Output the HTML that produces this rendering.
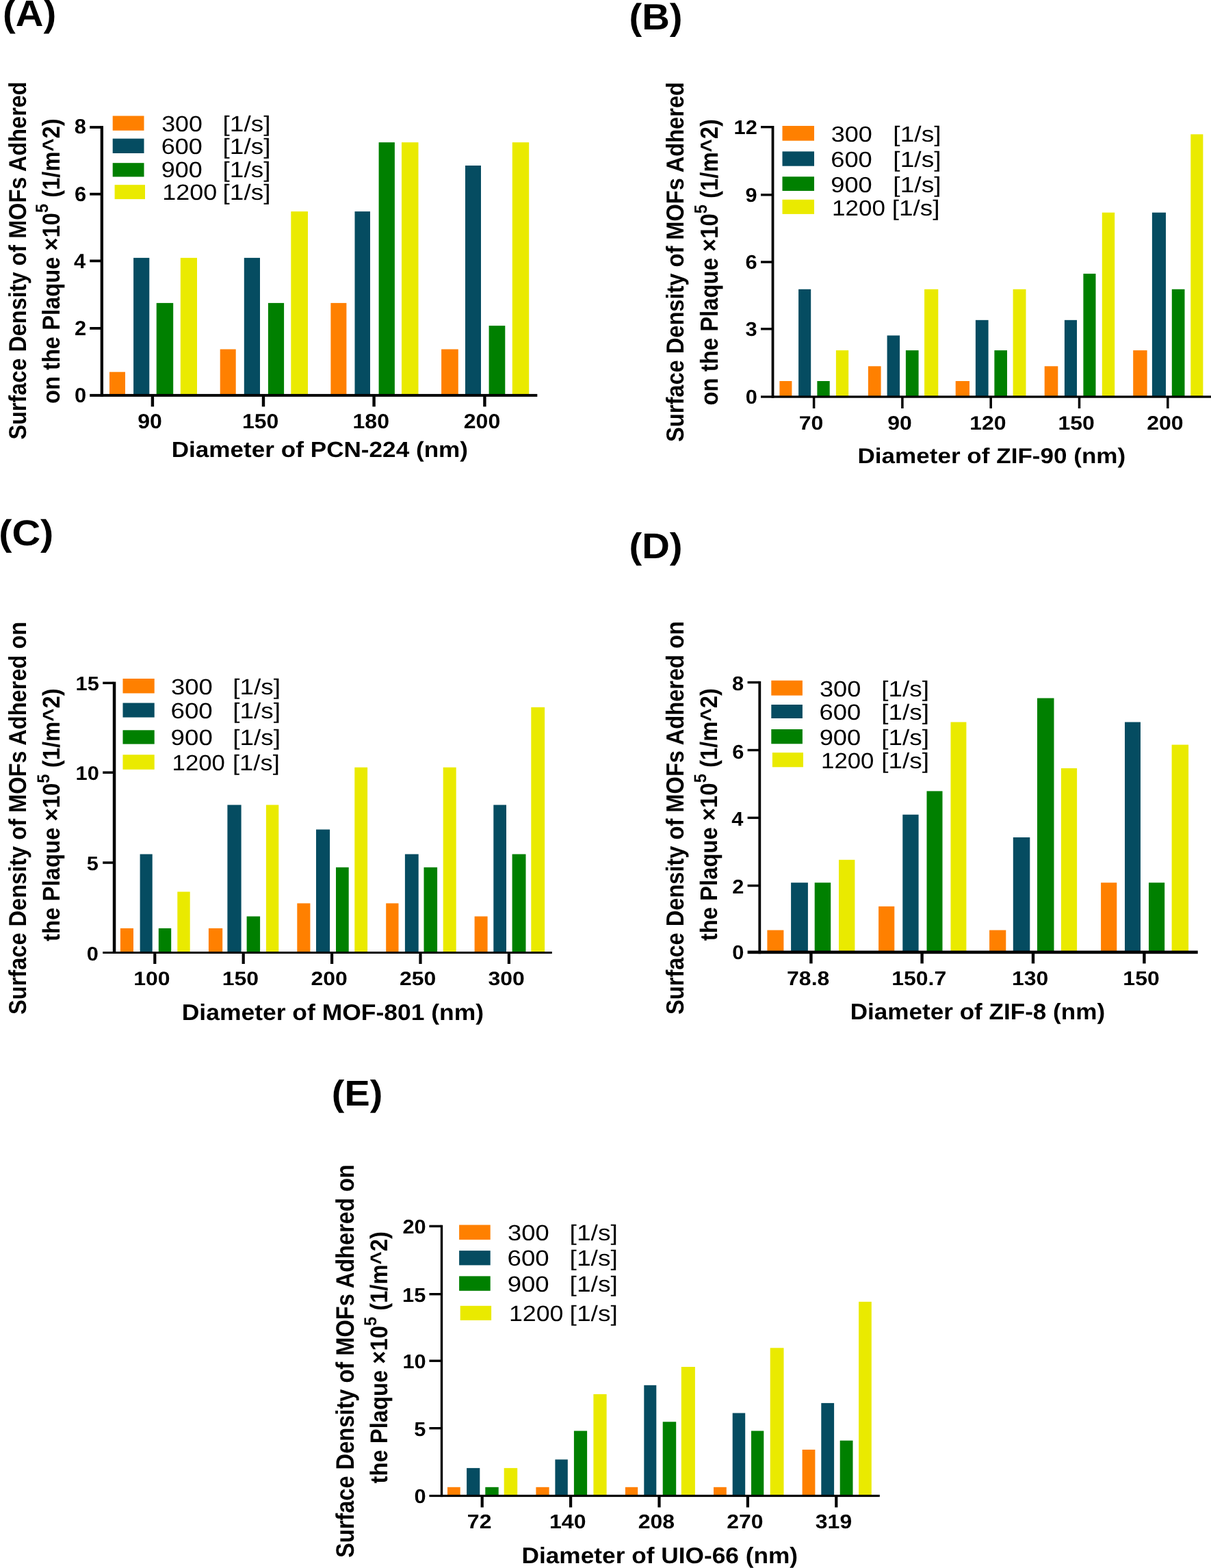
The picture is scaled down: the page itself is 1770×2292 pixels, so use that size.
<!DOCTYPE html>
<html lang="en">
<head>
<meta charset="utf-8">
<title>Surface density of MOFs adhered on the plaque</title>
<style>
html,body{margin:0;padding:0;background:#fff;}
body{width:1770px;height:2292px;overflow:hidden;}
svg{display:block;}
svg text{font-family:"Liberation Sans",Arial,Helvetica,sans-serif;fill:#000;}
</style>
</head>
<body>
<svg width="1770" height="2292" viewBox="0 0 1770 2292" text-rendering="geometricPrecision">
<rect x="0" y="0" width="1770" height="2292" fill="#ffffff"/>
<g id="panel-A">
<rect x="160" y="543.7" width="23" height="34.2" fill="#FF8000"/>
<rect x="195.1" y="376.9" width="23.2" height="201" fill="#054C61"/>
<rect x="228.7" y="442.9" width="24.5" height="135" fill="#008000"/>
<rect x="263.8" y="376.9" width="24.2" height="201" fill="#EAEA00"/>
<rect x="321.7" y="510.5" width="23" height="67.4" fill="#FF8000"/>
<rect x="356.8" y="376.9" width="23.2" height="201" fill="#054C61"/>
<rect x="391.9" y="442.9" width="23.2" height="135" fill="#008000"/>
<rect x="425.3" y="309.1" width="24.7" height="268.8" fill="#EAEA00"/>
<rect x="483.4" y="442.9" width="23" height="135" fill="#FF8000"/>
<rect x="518.5" y="309.1" width="22.5" height="268.8" fill="#054C61"/>
<rect x="553.6" y="208.1" width="23.3" height="369.8" fill="#008000"/>
<rect x="587" y="208.1" width="24.5" height="369.8" fill="#EAEA00"/>
<rect x="645.1" y="510.5" width="24.7" height="67.4" fill="#FF8000"/>
<rect x="680" y="242" width="23" height="335.9" fill="#054C61"/>
<rect x="714.6" y="476.1" width="23.7" height="101.8" fill="#008000"/>
<rect x="748.8" y="208.1" width="24.4" height="369.8" fill="#EAEA00"/>
<rect x="146.7" y="184.1" width="4.3" height="395.8" fill="#000"/>
<rect x="131.2" y="575.9" width="654.1" height="4" fill="#000"/>
<rect x="131.2" y="184.1" width="16.5" height="3.8" fill="#000"/>
<rect x="131.2" y="281.8" width="16.5" height="3.8" fill="#000"/>
<rect x="131.2" y="379.5" width="16.5" height="3.8" fill="#000"/>
<rect x="131.2" y="478" width="16.5" height="3.8" fill="#000"/>
<rect x="220.7" y="577.9" width="4.4" height="16.5" fill="#000"/>
<rect x="382.8" y="577.9" width="4.4" height="16.5" fill="#000"/>
<rect x="544.4" y="577.9" width="4.4" height="16.5" fill="#000"/>
<rect x="706.2" y="577.9" width="4.4" height="16.5" fill="#000"/>
<text transform="matrix(1.019 0 0 1 108.799 195.398)" font-size="30.226" font-weight="bold">8</text>
<text transform="matrix(1.019 0 0 1 108.953 293.798)" font-size="30.226" font-weight="bold">6</text>
<text transform="matrix(1.019 0 0 1 108.029 392.298)" font-size="30.226" font-weight="bold">4</text>
<text transform="matrix(1.019 0 0 1 109.076 490.298)" font-size="30.226" font-weight="bold">2</text>
<text transform="matrix(1.019 0 0 1 109.107 588.498)" font-size="30.226" font-weight="bold">0</text>
<text transform="matrix(1.064 0 0 1 201.204 626.099)" font-size="30.085" font-weight="bold">90</text>
<text transform="matrix(1.064 0 0 1 353.96 626.099)" font-size="30.085" font-weight="bold">150</text>
<text transform="matrix(1.064 0 0 1 515.56 626.099)" font-size="30.085" font-weight="bold">180</text>
<text transform="matrix(1.064 0 0 1 677.808 626.099)" font-size="30.085" font-weight="bold">200</text>
<rect x="164.7" y="169.4" width="45.8" height="21.4" fill="#FF8000"/>
<text transform="matrix(1.11 0 0 1 236.142 191.878)" font-size="32.203">300</text>
<text transform="matrix(1.148 0 0 1 325.576 191.878)" font-size="32.203">[1/s]</text>
<rect x="164.7" y="202.6" width="45.8" height="21.4" fill="#054C61"/>
<text transform="matrix(1.118 0 0 1 235.699 225.078)" font-size="32.203">600</text>
<text transform="matrix(1.148 0 0 1 325.576 225.078)" font-size="32.203">[1/s]</text>
<rect x="164.7" y="238.2" width="45.8" height="20.2" fill="#008000"/>
<text transform="matrix(1.115 0 0 1 235.848 259.478)" font-size="32.203">900</text>
<text transform="matrix(1.148 0 0 1 325.576 259.478)" font-size="32.203">[1/s]</text>
<rect x="167.6" y="270.2" width="44.4" height="20.9" fill="#EAEA00"/>
<text transform="matrix(1.116 0 0 1 237.27 292.478)" font-size="32.203">1200</text>
<text transform="matrix(1.148 0 0 1 325.576 292.478)" font-size="32.203">[1/s]</text>
<text transform="matrix(1.048 0 0 1 4.039 37.9)" font-size="53.779" font-weight="bold">(A)</text>
<text transform="matrix(1.094 0 0 1 250.682 667.9)" font-size="32.122" font-weight="bold">Diameter of PCN-224 (nm)</text>
<text transform="translate(38.243 642.609) rotate(-90) scale(0.908 1)" font-size="35.734" font-weight="bold">Surface Density of MOFs Adhered</text>
<text transform="translate(86.543 590.077) rotate(-90) scale(0.916 1)" font-size="35.734" font-weight="bold">on the Plaque ×10<tspan dy="-16.081" font-size="25.729">5</tspan><tspan dy="16.081"> (1/m^2)</tspan></text>
</g>
<g id="panel-B">
<rect x="1139.4" y="557" width="18" height="23" fill="#FF8000"/>
<rect x="1167.1" y="422.8" width="18.1" height="157.2" fill="#054C61"/>
<rect x="1194.4" y="557" width="18.3" height="23" fill="#008000"/>
<rect x="1221.9" y="512.1" width="18.3" height="67.9" fill="#EAEA00"/>
<rect x="1268.9" y="535.3" width="18.7" height="44.7" fill="#FF8000"/>
<rect x="1296.6" y="490.4" width="18.5" height="89.6" fill="#054C61"/>
<rect x="1323.9" y="512.1" width="18.7" height="67.9" fill="#008000"/>
<rect x="1351.1" y="422.8" width="20.2" height="157.2" fill="#EAEA00"/>
<rect x="1396.7" y="557" width="20.3" height="23" fill="#FF8000"/>
<rect x="1425.9" y="467.85" width="18.7" height="112.15" fill="#054C61"/>
<rect x="1453.4" y="512.1" width="18.6" height="67.9" fill="#008000"/>
<rect x="1480.6" y="422.8" width="18.9" height="157.2" fill="#EAEA00"/>
<rect x="1526.7" y="535.3" width="19.6" height="44.7" fill="#FF8000"/>
<rect x="1555.9" y="467.85" width="18.1" height="112.15" fill="#054C61"/>
<rect x="1583.4" y="400.1" width="18.1" height="179.9" fill="#008000"/>
<rect x="1610.8" y="310.7" width="18.4" height="269.3" fill="#EAEA00"/>
<rect x="1656.2" y="512.1" width="20.4" height="67.9" fill="#FF8000"/>
<rect x="1683.9" y="310.7" width="20.1" height="269.3" fill="#054C61"/>
<rect x="1712.8" y="422.8" width="18.7" height="157.2" fill="#008000"/>
<rect x="1740.3" y="196.3" width="18.1" height="383.7" fill="#EAEA00"/>
<rect x="1127.6" y="184" width="3.8" height="397.65" fill="#000"/>
<rect x="1112" y="578.35" width="658" height="3.3" fill="#000"/>
<rect x="1112" y="184" width="16.6" height="3.4" fill="#000"/>
<rect x="1112" y="283.1" width="16.6" height="3.4" fill="#000"/>
<rect x="1112" y="381.3" width="16.6" height="3.4" fill="#000"/>
<rect x="1112" y="479.1" width="16.6" height="3.4" fill="#000"/>
<rect x="1187.85" y="580" width="3.5" height="17" fill="#000"/>
<rect x="1317.15" y="580" width="3.5" height="17" fill="#000"/>
<rect x="1446.45" y="580" width="3.5" height="17" fill="#000"/>
<rect x="1575.75" y="580" width="3.5" height="17" fill="#000"/>
<rect x="1705.05" y="580" width="3.5" height="17" fill="#000"/>
<text transform="matrix(1.059 0 0 1 1072.552 196.109)" font-size="29.096" font-weight="bold">12</text>
<text transform="matrix(1.059 0 0 1 1089.584 295.109)" font-size="29.096" font-weight="bold">9</text>
<text transform="matrix(1.059 0 0 1 1089.553 393.309)" font-size="29.096" font-weight="bold">6</text>
<text transform="matrix(1.059 0 0 1 1089.553 491.109)" font-size="29.096" font-weight="bold">3</text>
<text transform="matrix(1.059 0 0 1 1089.707 590.309)" font-size="29.096" font-weight="bold">0</text>
<text transform="matrix(1.122 0 0 1 1167.776 628.315)" font-size="28.531" font-weight="bold">70</text>
<text transform="matrix(1.122 0 0 1 1297.204 628.315)" font-size="28.531" font-weight="bold">90</text>
<text transform="matrix(1.122 0 0 1 1417.16 628.315)" font-size="28.531" font-weight="bold">120</text>
<text transform="matrix(1.122 0 0 1 1546.46 628.315)" font-size="28.531" font-weight="bold">150</text>
<text transform="matrix(1.122 0 0 1 1676.208 628.315)" font-size="28.531" font-weight="bold">200</text>
<rect x="1143.5" y="184" width="46.5" height="21.7" fill="#FF8000"/>
<text transform="matrix(1.125 0 0 1 1214.63 207.279)" font-size="32.062">300</text>
<text transform="matrix(1.16 0 0 1 1305.36 207.279)" font-size="32.062">[1/s]</text>
<rect x="1143.5" y="221.4" width="46.5" height="21.3" fill="#054C61"/>
<text transform="matrix(1.133 0 0 1 1214.184 244.279)" font-size="32.062">600</text>
<text transform="matrix(1.16 0 0 1 1305.36 244.279)" font-size="32.062">[1/s]</text>
<rect x="1143.5" y="258.2" width="46.5" height="20.8" fill="#008000"/>
<text transform="matrix(1.13 0 0 1 1214.333 280.779)" font-size="32.062">900</text>
<text transform="matrix(1.16 0 0 1 1305.36 280.779)" font-size="32.062">[1/s]</text>
<rect x="1143.5" y="291.8" width="46.5" height="21.1" fill="#EAEA00"/>
<text transform="matrix(1.092 0 0 1 1216.038 314.579)" font-size="32.062">1200</text>
<text transform="matrix(1.153 0 0 1 1303.776 314.579)" font-size="32.062">[1/s]</text>
<text transform="matrix(1.052 0 0 1 919.442 42.7)" font-size="53.488" font-weight="bold">(B)</text>
<text transform="matrix(1.118 0 0 1 1253.483 676.6)" font-size="31.395" font-weight="bold">Diameter of ZIF-90 (nm)</text>
<text transform="translate(999.041 645.913) rotate(-90) scale(0.909 1)" font-size="35.876" font-weight="bold">Surface Density of MOFs Adhered</text>
<text transform="translate(1049.038 592.481) rotate(-90) scale(0.909 1)" font-size="36.158" font-weight="bold">on the Plaque ×10<tspan dy="-16.271" font-size="26.034">5</tspan><tspan dy="16.271"> (1/m^2)</tspan></text>
</g>
<g id="panel-C">
<rect x="175.9" y="1356.9" width="19.1" height="35.6" fill="#FF8000"/>
<rect x="204.6" y="1248.55" width="18.1" height="143.95" fill="#054C61"/>
<rect x="231.8" y="1356.9" width="18.4" height="35.6" fill="#008000"/>
<rect x="259.3" y="1303.5" width="18.4" height="89" fill="#EAEA00"/>
<rect x="304.9" y="1356.9" width="20.3" height="35.6" fill="#FF8000"/>
<rect x="332.4" y="1176.55" width="20.2" height="215.95" fill="#054C61"/>
<rect x="360.6" y="1339.5" width="19.5" height="53" fill="#008000"/>
<rect x="388.9" y="1176.55" width="18.4" height="215.95" fill="#EAEA00"/>
<rect x="434.3" y="1320.4" width="19.1" height="72.1" fill="#FF8000"/>
<rect x="462" y="1212.5" width="20.1" height="180" fill="#054C61"/>
<rect x="491" y="1267.8" width="18.7" height="124.7" fill="#008000"/>
<rect x="518.3" y="1121.7" width="18.8" height="270.8" fill="#EAEA00"/>
<rect x="564.2" y="1320.4" width="18.3" height="72.1" fill="#FF8000"/>
<rect x="591.9" y="1248.55" width="19.8" height="143.95" fill="#054C61"/>
<rect x="619.5" y="1267.8" width="19.6" height="124.7" fill="#008000"/>
<rect x="647.7" y="1121.7" width="19" height="270.8" fill="#EAEA00"/>
<rect x="693.6" y="1339.5" width="19" height="53" fill="#FF8000"/>
<rect x="721.3" y="1176.55" width="18.7" height="215.95" fill="#054C61"/>
<rect x="748.6" y="1248.55" width="19.9" height="143.95" fill="#008000"/>
<rect x="776.3" y="1033.8" width="19.8" height="358.7" fill="#EAEA00"/>
<rect x="164.8" y="996.6" width="4.5" height="397.4" fill="#000"/>
<rect x="150.2" y="1391" width="656.6" height="3" fill="#000"/>
<rect x="150.2" y="996.6" width="15.6" height="3.5" fill="#000"/>
<rect x="150.2" y="1127.45" width="15.6" height="3.5" fill="#000"/>
<rect x="150.2" y="1259.25" width="15.6" height="3.5" fill="#000"/>
<rect x="224.2" y="1392.5" width="4.2" height="16.5" fill="#000"/>
<rect x="353.6" y="1392.5" width="4.2" height="16.5" fill="#000"/>
<rect x="483" y="1392.5" width="4.2" height="16.5" fill="#000"/>
<rect x="612.4" y="1392.5" width="4.2" height="16.5" fill="#000"/>
<rect x="741.8" y="1392.5" width="4.2" height="16.5" fill="#000"/>
<text transform="matrix(1.069 0 0 1 110.582 1008.912)" font-size="28.814" font-weight="bold">15</text>
<text transform="matrix(1.069 0 0 1 110.582 1139.512)" font-size="28.814" font-weight="bold">10</text>
<text transform="matrix(1.069 0 0 1 126.707 1271.512)" font-size="28.814" font-weight="bold">5</text>
<text transform="matrix(1.069 0 0 1 126.707 1403.512)" font-size="28.814" font-weight="bold">0</text>
<text transform="matrix(1.133 0 0 1 195.26 1439.918)" font-size="28.249" font-weight="bold">100</text>
<text transform="matrix(1.133 0 0 1 324.66 1439.918)" font-size="28.249" font-weight="bold">150</text>
<text transform="matrix(1.133 0 0 1 454.508 1439.918)" font-size="28.249" font-weight="bold">200</text>
<text transform="matrix(1.133 0 0 1 583.908 1439.918)" font-size="28.249" font-weight="bold">250</text>
<text transform="matrix(1.133 0 0 1 713.5 1439.918)" font-size="28.249" font-weight="bold">300</text>
<rect x="179.5" y="992" width="46.2" height="21.4" fill="#FF8000"/>
<text transform="matrix(1.133 0 0 1 249.913 1014.678)" font-size="32.203">300</text>
<text transform="matrix(1.146 0 0 1 340.18 1014.678)" font-size="32.203">[1/s]</text>
<rect x="179.5" y="1027.5" width="46.2" height="21.1" fill="#054C61"/>
<text transform="matrix(1.142 0 0 1 249.461 1050.378)" font-size="32.203">600</text>
<text transform="matrix(1.146 0 0 1 340.18 1050.378)" font-size="32.203">[1/s]</text>
<rect x="179.5" y="1067.3" width="46.2" height="20.3" fill="#008000"/>
<text transform="matrix(1.139 0 0 1 249.613 1089.478)" font-size="32.203">900</text>
<text transform="matrix(1.146 0 0 1 340.18 1089.478)" font-size="32.203">[1/s]</text>
<rect x="179.5" y="1103.2" width="46.2" height="21.6" fill="#EAEA00"/>
<text transform="matrix(1.08 0 0 1 251.556 1125.978)" font-size="32.203">1200</text>
<text transform="matrix(1.13 0 0 1 340.017 1125.978)" font-size="32.203">[1/s]</text>
<text transform="matrix(1.096 0 0 1 -1.83 796.773)" font-size="52.684" font-weight="bold">(C)</text>
<text transform="matrix(1.075 0 0 1 265.758 1490.8)" font-size="32.994" font-weight="bold">Diameter of MOF-801 (nm)</text>
<text transform="translate(38.341 1482.912) rotate(-90) scale(0.908 1)" font-size="35.876" font-weight="bold">Surface Density of MOFs Adhered on</text>
<text transform="translate(87.348 1375.995) rotate(-90) scale(0.936 1)" font-size="35.169" font-weight="bold">the Plaque ×10<tspan dy="-15.826" font-size="25.322">5</tspan><tspan dy="15.826"> (1/m^2)</tspan></text>
</g>
<g id="panel-D">
<rect x="1121.4" y="1359.6" width="24" height="32.3" fill="#FF8000"/>
<rect x="1156.1" y="1290.2" width="24.8" height="101.7" fill="#054C61"/>
<rect x="1190.7" y="1290.2" width="23.5" height="101.7" fill="#008000"/>
<rect x="1226" y="1256.8" width="23.4" height="135.1" fill="#EAEA00"/>
<rect x="1284.1" y="1324.9" width="23.2" height="67" fill="#FF8000"/>
<rect x="1319.3" y="1190.75" width="23.3" height="201.15" fill="#054C61"/>
<rect x="1354.5" y="1156.4" width="23" height="235.5" fill="#008000"/>
<rect x="1389.5" y="1055.5" width="22.9" height="336.4" fill="#EAEA00"/>
<rect x="1446.1" y="1359.6" width="24.2" height="32.3" fill="#FF8000"/>
<rect x="1480.8" y="1224" width="24.5" height="167.9" fill="#054C61"/>
<rect x="1516" y="1020.5" width="24.5" height="371.4" fill="#008000"/>
<rect x="1550.9" y="1123" width="23.2" height="268.9" fill="#EAEA00"/>
<rect x="1609.1" y="1290.2" width="23.2" height="101.7" fill="#FF8000"/>
<rect x="1644" y="1055.5" width="23" height="336.4" fill="#054C61"/>
<rect x="1679" y="1290.2" width="23.2" height="101.7" fill="#008000"/>
<rect x="1712.6" y="1088.6" width="24.5" height="303.3" fill="#EAEA00"/>
<rect x="1108.4" y="995.8" width="3.8" height="398.4" fill="#000"/>
<rect x="1092.6" y="1389.6" width="658.1" height="4.6" fill="#000"/>
<rect x="1092.6" y="995.8" width="16.8" height="3.4" fill="#000"/>
<rect x="1092.6" y="1094.8" width="16.8" height="3.4" fill="#000"/>
<rect x="1092.6" y="1193.7" width="16.8" height="3.4" fill="#000"/>
<rect x="1092.6" y="1292.9" width="16.8" height="3.4" fill="#000"/>
<rect x="1183.2" y="1391.9" width="4.4" height="16.5" fill="#000"/>
<rect x="1345.4" y="1391.9" width="4.4" height="16.5" fill="#000"/>
<rect x="1507.8" y="1391.9" width="4.4" height="16.5" fill="#000"/>
<rect x="1670.2" y="1391.9" width="4.4" height="16.5" fill="#000"/>
<text transform="matrix(1.059 0 0 1 1069.999 1009.009)" font-size="29.096" font-weight="bold">8</text>
<text transform="matrix(1.059 0 0 1 1070.153 1108.609)" font-size="29.096" font-weight="bold">6</text>
<text transform="matrix(1.059 0 0 1 1069.229 1207.409)" font-size="29.096" font-weight="bold">4</text>
<text transform="matrix(1.059 0 0 1 1070.276 1305.609)" font-size="29.096" font-weight="bold">2</text>
<text transform="matrix(1.059 0 0 1 1070.307 1402.209)" font-size="29.096" font-weight="bold">0</text>
<text transform="matrix(1.105 0 0 1 1150.072 1439.81)" font-size="28.955" font-weight="bold">78.8</text>
<text transform="matrix(1.105 0 0 1 1303.264 1439.81)" font-size="28.955" font-weight="bold">150.7</text>
<text transform="matrix(1.105 0 0 1 1478.96 1439.81)" font-size="28.955" font-weight="bold">130</text>
<text transform="matrix(1.105 0 0 1 1641.36 1439.81)" font-size="28.955" font-weight="bold">150</text>
<rect x="1127.3" y="994.7" width="45.6" height="21.9" fill="#FF8000"/>
<text transform="matrix(1.124 0 0 1 1197.925 1018.178)" font-size="32.203">300</text>
<text transform="matrix(1.146 0 0 1 1288.18 1018.178)" font-size="32.203">[1/s]</text>
<rect x="1127.3" y="1030" width="45.6" height="20" fill="#054C61"/>
<text transform="matrix(1.132 0 0 1 1197.477 1052.478)" font-size="32.203">600</text>
<text transform="matrix(1.146 0 0 1 1288.18 1052.478)" font-size="32.203">[1/s]</text>
<rect x="1127.3" y="1066" width="45.6" height="21.3" fill="#008000"/>
<text transform="matrix(1.129 0 0 1 1197.627 1088.978)" font-size="32.203">900</text>
<text transform="matrix(1.146 0 0 1 1288.18 1088.978)" font-size="32.203">[1/s]</text>
<rect x="1128.9" y="1100.1" width="45.1" height="21.2" fill="#EAEA00"/>
<text transform="matrix(1.08 0 0 1 1200.056 1123.478)" font-size="32.203">1200</text>
<text transform="matrix(1.146 0 0 1 1288.18 1123.478)" font-size="32.203">[1/s]</text>
<text transform="matrix(1.076 0 0 1 919.442 816)" font-size="52.326" font-weight="bold">(D)</text>
<text transform="matrix(1.064 0 0 1 1242.683 1489.9)" font-size="32.994" font-weight="bold">Diameter of ZIF-8 (nm)</text>
<text transform="translate(998.838 1482.913) rotate(-90) scale(0.902 1)" font-size="36.158" font-weight="bold">Surface Density of MOFs Adhered on</text>
<text transform="translate(1047.85 1375.294) rotate(-90) scale(0.938 1)" font-size="35.028" font-weight="bold">the Plaque ×10<tspan dy="-15.763" font-size="25.22">5</tspan><tspan dy="15.763"> (1/m^2)</tspan></text>
</g>
<g id="panel-E">
<rect x="654" y="2173.8" width="18.7" height="12.7" fill="#FF8000"/>
<rect x="682.1" y="2145.9" width="19.2" height="40.6" fill="#054C61"/>
<rect x="709.3" y="2173.8" width="19.4" height="12.7" fill="#008000"/>
<rect x="736.7" y="2145.9" width="19.5" height="40.6" fill="#EAEA00"/>
<rect x="783.4" y="2173.8" width="19.2" height="12.7" fill="#FF8000"/>
<rect x="811.4" y="2133.4" width="18.4" height="53.1" fill="#054C61"/>
<rect x="838.9" y="2091.55" width="19.2" height="94.95" fill="#008000"/>
<rect x="867.4" y="2037.9" width="19.2" height="148.6" fill="#EAEA00"/>
<rect x="913.9" y="2173.8" width="18.3" height="12.7" fill="#FF8000"/>
<rect x="941.3" y="2024.8" width="18" height="161.7" fill="#054C61"/>
<rect x="968.7" y="2078.3" width="19.5" height="108.2" fill="#008000"/>
<rect x="995.8" y="1998" width="20.1" height="188.5" fill="#EAEA00"/>
<rect x="1043" y="2173.8" width="18.8" height="12.7" fill="#FF8000"/>
<rect x="1070.7" y="2065.5" width="18.5" height="121" fill="#054C61"/>
<rect x="1098" y="2091.55" width="18.3" height="94.95" fill="#008000"/>
<rect x="1125.7" y="1970.3" width="19.8" height="216.2" fill="#EAEA00"/>
<rect x="1172.6" y="2119" width="18.8" height="67.5" fill="#FF8000"/>
<rect x="1200.3" y="2050.9" width="18.8" height="135.6" fill="#054C61"/>
<rect x="1227.7" y="2105.7" width="18.8" height="80.8" fill="#008000"/>
<rect x="1255.1" y="1902.8" width="18.7" height="283.7" fill="#EAEA00"/>
<rect x="643.8" y="1790.7" width="3.4" height="397.4" fill="#000"/>
<rect x="627.4" y="2184.9" width="658.4" height="3.2" fill="#000"/>
<rect x="627.4" y="1790.7" width="17.4" height="3.4" fill="#000"/>
<rect x="627.4" y="1890" width="17.4" height="3.4" fill="#000"/>
<rect x="627.4" y="1987.5" width="17.4" height="3.4" fill="#000"/>
<rect x="627.4" y="2086" width="17.4" height="3.4" fill="#000"/>
<rect x="702.6" y="2186.5" width="4.2" height="16.9" fill="#000"/>
<rect x="832" y="2186.5" width="4.2" height="16.9" fill="#000"/>
<rect x="961.4" y="2186.5" width="4.2" height="16.9" fill="#000"/>
<rect x="1090.8" y="2186.5" width="4.2" height="16.9" fill="#000"/>
<rect x="1220.2" y="2186.5" width="4.2" height="16.9" fill="#000"/>
<text transform="matrix(1.059 0 0 1 588.482 1803.109)" font-size="29.096" font-weight="bold">20</text>
<text transform="matrix(1.059 0 0 1 588.082 1902.509)" font-size="29.096" font-weight="bold">15</text>
<text transform="matrix(1.059 0 0 1 588.482 2000.009)" font-size="29.096" font-weight="bold">10</text>
<text transform="matrix(1.059 0 0 1 605.207 2098.509)" font-size="29.096" font-weight="bold">5</text>
<text transform="matrix(1.059 0 0 1 605.607 2197.309)" font-size="29.096" font-weight="bold">0</text>
<text transform="matrix(1.105 0 0 1 682.86 2234.01)" font-size="28.955" font-weight="bold">72</text>
<text transform="matrix(1.105 0 0 1 803.06 2234.01)" font-size="28.955" font-weight="bold">140</text>
<text transform="matrix(1.105 0 0 1 932.748 2234.01)" font-size="28.955" font-weight="bold">208</text>
<text transform="matrix(1.105 0 0 1 1062.308 2234.01)" font-size="28.955" font-weight="bold">270</text>
<text transform="matrix(1.105 0 0 1 1191.836 2234.01)" font-size="28.955" font-weight="bold">319</text>
<rect x="671.1" y="1790.5" width="45.6" height="21.6" fill="#FF8000"/>
<text transform="matrix(1.129 0 0 1 742.018 1813.278)" font-size="32.203">300</text>
<text transform="matrix(1.155 0 0 1 832.56 1813.278)" font-size="32.203">[1/s]</text>
<rect x="671.1" y="1828.1" width="45.6" height="21.3" fill="#054C61"/>
<text transform="matrix(1.138 0 0 1 741.568 1850.478)" font-size="32.203">600</text>
<text transform="matrix(1.155 0 0 1 832.56 1850.478)" font-size="32.203">[1/s]</text>
<rect x="671.1" y="1865.4" width="45.6" height="21.4" fill="#008000"/>
<text transform="matrix(1.135 0 0 1 741.719 1887.978)" font-size="32.203">900</text>
<text transform="matrix(1.155 0 0 1 832.56 1887.978)" font-size="32.203">[1/s]</text>
<rect x="672.7" y="1908.8" width="45.4" height="21.1" fill="#EAEA00"/>
<text transform="matrix(1.111 0 0 1 743.881 1931.278)" font-size="32.203">1200</text>
<text transform="matrix(1.155 0 0 1 832.56 1931.278)" font-size="32.203">[1/s]</text>
<text transform="matrix(1.066 0 0 1 484.866 1616)" font-size="52.326" font-weight="bold">(E)</text>
<text transform="matrix(1.069 0 0 1 762.473 2285.1)" font-size="32.994" font-weight="bold">Diameter of UIO-66 (nm)</text>
<text transform="translate(517.13 2277.013) rotate(-90) scale(0.881 1)" font-size="37.006" font-weight="bold">Surface Density of MOFs Adhered on</text>
<text transform="translate(566.245 2168.494) rotate(-90) scale(0.925 1)" font-size="35.452" font-weight="bold">the Plaque ×10<tspan dy="-15.953" font-size="25.525">5</tspan><tspan dy="15.953"> (1/m^2)</tspan></text>
</g>
</svg>
</body>
</html>
